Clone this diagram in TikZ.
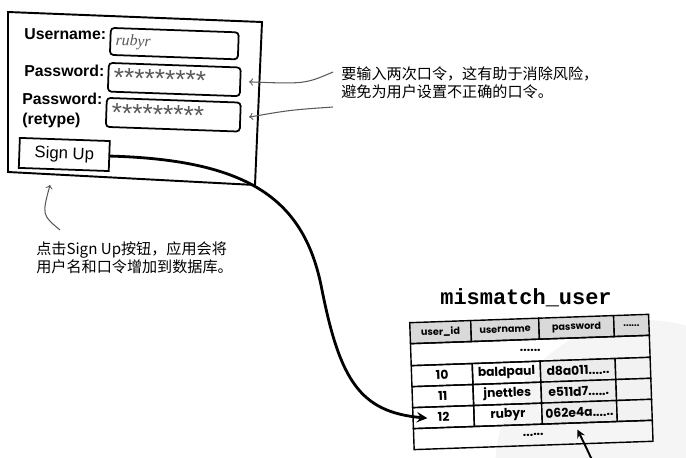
\documentclass[tikz,border=0pt]{standalone}
\usepackage{fontspec}
\setmainfont{Liberation Sans}
\newfontfamily\cjk{Noto Sans CJK SC}
\newfontfamily\tablefont{Poppins}
\newfontfamily\titlefont{Liberation Mono}
\newfontfamily\handfont{Liberation Serif}
\usetikzlibrary{positioning}
\newcommand{\sixdots}{......}
\newcommand{\stars}{\raisebox{-4pt}{*********}}

\begin{document}
\begin{tikzpicture}
[x=0.02cm,y=-0.02cm,
  labelDecorate/.style={anchor=west,inner sep=0pt,font=\bfseries\fontsize{9}{11}\selectfont},%
  fieldDecorate/.style={draw,line width=1pt,rounded corners=2pt,anchor=north west,inner sep=3pt,rotate=-2},%
  fieldSize/.style 2 args={text width=#1*0.02cm-6pt,minimum height=#2*0.02cm},%
  noteDecorate/.style={align=left,inner sep=0pt,anchor=north west,font=\cjk\fontsize{8.6}{10.6}\selectfont},%
  noteArrow/.style={->,gray!70!black,semithick},%
  dataArrow/.style={->,>=stealth,line width=1.6pt},%
  cellDecorate/.style={draw,thick,anchor=north west,inner sep=0pt,font=\tablefont\bfseries\fontsize{7}{8}\selectfont},%
  cellSize/.style 2 args={minimum width=#1*0.02cm,minimum height=#2*0.02cm}]
\useasboundingbox (0,0) rectangle (686,457);
%% faint mark in the corner
\begin{scope}
  \clip (0,0) rectangle (686,457);
  \fill[gray!8] (645,470) circle [radius=150];
\end{scope}
%% sign up form
\draw[line width=1.1pt] (8,12) -- (262,22) -- (255,185) -- (8,172) -- cycle;
\node[labelDecorate] (userLabel) at (24,34) {Username:};
\node[labelDecorate] (pwLabel) at (24,71) {Password:};
\node[labelDecorate,align=left,anchor=north west] (retypeLabel) at (22,93) {Password:\\(retype)};
\node[fieldDecorate,fieldSize={128}{27},font=\handfont\itshape\fontsize{9}{11}\selectfont,text=gray!70!black] (userField) at (110,27) {rubyr};
\node[fieldDecorate,fieldSize={132}{28},font=\fontsize{15}{15}\selectfont,text=gray!70!black] (pwField) at (108,62) {\stars};
\node[fieldDecorate,fieldSize={134}{29},font=\fontsize{15}{15}\selectfont,text=gray!70!black] (retypeField) at (106,97) {\stars};
\node[draw,line width=1pt,anchor=north west,cellSize={90}{30},rotate=-2,font=\fontsize{9.5}{12}\selectfont] (signUp) at (19,137) {Sign Up};
%% notes
\node[noteDecorate] (twiceNote) at (341,66) {要输入两次口令，这有助于消除风险，\\避免为用户设置不正确的口令。};
\node[noteDecorate] (signUpNote) at (36,241) {点击Sign Up按钮，应用会将\\用户名和口令增加到数据库。};
%% table
\node[font=\titlefont\bfseries\fontsize{12.5}{14}\selectfont] (tableTitle) at (526,298) {mismatch\_user};
\begin{scope}[shift={(409,322)},rotate=2,transform shape]
  \foreach \name/\x/\w/\txt in {hid/0/61/user\_id, hname/61/68/username, hpw/129/75/password, hmore/204/35/\sixdots}
  {
    \node[cellDecorate,fill=gray!30,cellSize={\w}{21},font=\tablefont\bfseries\fontsize{5.5}{6}\selectfont] (\name) at (\x,0) {\txt};
  }
  \node[cellDecorate,cellSize={239}{22}] (topDots) at (0,21) {\sixdots};
  \foreach \uid/\uname/\pw/\y in {10/baldpaul/d8a011\sixdots/43, 11/jnettles/e511d7\sixdots/64, 12/rubyr/062e4a\sixdots/85}
  {
    \node[cellDecorate,cellSize={61}{21}] (id\uid) at (0,\y) {\uid};
    \node[cellDecorate,cellSize={68}{21}] (name\uid) at (61,\y) {\uname};
    \node[cellDecorate,fill=gray!15,cellSize={75}{21}] (pw\uid) at (129,\y) {\pw};
    \node[cellDecorate,fill=gray!10,cellSize={35}{21}] (more\uid) at (204,\y) {};
  }
  \node[cellDecorate,cellSize={239}{21}] (bottomDots) at (0,106) {\sixdots};
\end{scope}
%% arrows
\coordinate (pwTail) at (333,72);
\coordinate (retypeTail) at (333,107);
\coordinate (noteTail) at (60,230);
\coordinate (frameBottom) at (50,185);
\coordinate (hashTail) at (592,460);
\draw[noteArrow] (pwTail) .. controls (305,84) .. ([xshift=0.16cm]pwField.east);
\draw[noteArrow] (retypeTail) .. controls (290,110) .. ([xshift=0.16cm]retypeField.east);
\draw[noteArrow] (noteTail) .. controls (42,215) .. (frameBottom);
\draw[dataArrow] (signUp.east) .. controls (250,160) and (305,200) .. (322,290)
  .. controls (340,380) and (360,412) .. ([xshift=0.3cm]id12.west);
\draw[->,>=stealth,line width=1.1pt] (hashTail) .. controls (585,445) .. ([xshift=-0.05cm,yshift=-0.12cm]pw12.south);
\end{tikzpicture}
\end{document}
